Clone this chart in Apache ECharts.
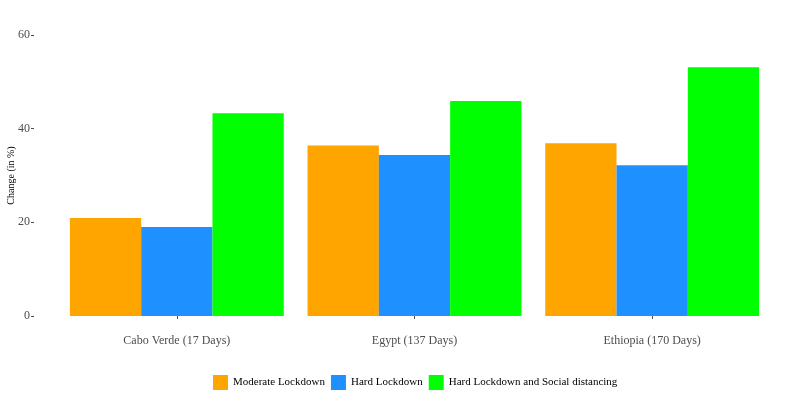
<!DOCTYPE html>
<html>
<head>
<meta charset="utf-8">
<script src="https://cdn.jsdelivr.net/npm/echarts@6/dist/echarts.min.js"></script>
<style>html,body{margin:0;padding:0;background:#fff}#c{width:800px;height:400px}</style>
</head>
<body>
<div id="c"></div>
<script>
const categories = ["Cabo Verde (17 Days)", "Egypt (137 Days)", "Ethiopia (170 Days)"];
const seriesNames = ["Moderate Lockdown", "Hard Lockdown", "Hard Lockdown and Social distancing"];
const moderate = [20.9, 36.4, 36.9];
const hard = [19.0, 34.4, 32.2];
const hardSocial = [43.3, 45.9, 53.1];
const yTicks = [0, 20, 40, 60];
const colors = ["#FFA500", "#1E90FF", "#00FF00"];

const font = "'Liberation Serif', 'DejaVu Serif', serif";
const chart = echarts.init(document.getElementById('c'), null, {renderer: 'canvas'});
const values = [moderate, hard, hardSocial];
chart.setOption({
  animation: false,
  backgroundColor: '#fff',
  textStyle: {fontFamily: font},
  grid: {left: 58, right: 29, top: 35, bottom: 84, containLabel: false, outerBoundsMode: 'none'},
  legend: {
    bottom: 5, left: 208,
    itemWidth: 15, itemHeight: 15, itemGap: 6,
    icon: 'rect',
    textStyle: {fontFamily: font, fontSize: 11, color: '#000'},
    data: seriesNames
  },
  xAxis: {
    type: 'category',
    data: categories,
    offset: 14,
    axisLine: {show: false},
    axisTick: {show: true, alignWithLabel: true, length: 3, lineStyle: {color: '#4d4d4d'}},
    axisLabel: {margin: 5, fontFamily: font, fontSize: 12, color: '#4d4d4d'}
  },
  yAxis: {
    type: 'value',
    min: yTicks[0], max: yTicks[yTicks.length - 1], interval: 20,
    offset: 24,
    name: 'Change (in %)',
    nameLocation: 'middle',
    nameGap: 18,
    nameMoveOverlap: false,
    nameTextStyle: {fontFamily: font, fontSize: 10, color: '#000'},
    axisLine: {show: false},
    axisTick: {show: true, length: 3, lineStyle: {color: '#4d4d4d'}},
    splitLine: {show: false},
    axisLabel: {margin: 4, fontFamily: font, fontSize: 12, color: '#4d4d4d'}
  },
  series: seriesNames.map((n, i) => ({
    name: n,
    type: 'bar',
    data: values[i],
    barGap: '0%',
    barCategoryGap: '10%',
    itemStyle: {color: colors[i]}
  }))
});
</script>
</body>
</html>
